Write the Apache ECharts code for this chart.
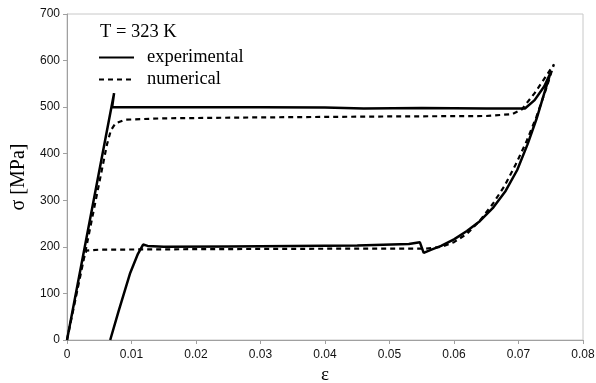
<!DOCTYPE html>
<html>
<head>
<meta charset="utf-8">
<script src="https://cdn.jsdelivr.net/npm/echarts@6/dist/echarts.min.js"></script>
<style>
  html, body { margin: 0; padding: 0; background: #fff; }
  #chart { width: 596px; height: 383px; }
</style>
</head>
<body>
<div id="chart"></div>
<script>
// experimental loop: loading, plateau, hardening, then unloading back to residual strain
const expStrain = [0, 0.0073, 0.0070, 0.015, 0.030, 0.040, 0.046, 0.055, 0.065, 0.0710,
  0.0725, 0.0740, 0.0750,
  0.0740, 0.0728, 0.0714, 0.0698, 0.0680, 0.0660, 0.0640, 0.0620, 0.0600, 0.0580, 0.0565, 0.0553,
  0.0547, 0.0530, 0.0450, 0.0350, 0.0250, 0.0150, 0.0125, 0.0118,
  0.0110, 0.0098, 0.0080, 0.0067];
const expStress = [0, 530, 500, 500, 500, 499, 497, 498, 497, 497,
  515, 545, 575,
  530, 475, 420, 365, 320, 283, 255, 234, 216, 202, 194, 187,
  210, 206, 203, 202, 201, 200, 202, 205,
  185, 144, 62, 0];

// numerical loop
const numStrain = [0, 0.0030, 0.0062, 0.0068, 0.0075, 0.0090, 0.0150, 0.0300, 0.0500, 0.0650,
  0.0690, 0.0705, 0.0725, 0.0755,
  0.0743, 0.0728, 0.0712, 0.0695, 0.0678, 0.0660, 0.0640, 0.0620, 0.0600, 0.0580, 0.0555,
  0.0400, 0.0200, 0.0050, 0.0030, 0.0025, 0];
const numStress = [0, 200, 420, 450, 465, 473, 476, 478, 480, 481,
  485, 495, 530, 592,
  540, 480, 425, 375, 330, 292, 256, 228, 210, 200, 196,
  196, 195, 194, 192, 170, 0];

const xTicks = ['0', '0.01', '0.02', '0.03', '0.04', '0.05', '0.06', '0.07', '0.08'];

const zip = (xs, ys) => xs.map((x, i) => [x, ys[i]]);

const chart = echarts.init(document.getElementById('chart'));

const tickFont = { fontFamily: 'Liberation Sans', fontSize: 12, color: '#111' };
const serif = 'Liberation Serif';

chart.setOption({
  animation: false,
  backgroundColor: '#fff',
  title: {
    text: 'T = 323 K',
    left: 100,
    top: 23,
    padding: 0,
    textStyle: { fontFamily: serif, fontSize: 18.5, fontWeight: 'normal', color: '#000' }
  },
  legend: {
    orient: 'vertical',
    left: 98,
    top: 48,
    padding: 0,
    itemWidth: 35,
    itemHeight: 14,
    itemGap: 3,
    itemStyle: { opacity: 0 },
    textStyle: { fontFamily: serif, fontSize: 18.5, color: '#000', padding: [0, 0, 0, 8] },
    data: ['experimental', 'numerical']
  },
  grid: {
    left: 67,
    right: 13,
    top: 14,
    bottom: 43,
    outerBoundsMode: 'none',
    show: true,
    borderColor: '#c8c8c8',
    borderWidth: 1
  },
  xAxis: {
    type: 'value',
    min: 0,
    max: 0.08,
    interval: 0.01,
    name: 'ε',
    nameLocation: 'middle',
    nameGap: 25,
    nameTextStyle: { fontFamily: serif, fontSize: 19, color: '#000' },
    axisLine: { lineStyle: { color: '#a0a0a0' } },
    axisTick: { show: true, length: 4, lineStyle: { color: '#a0a0a0' } },
    splitLine: { show: false },
    axisLabel: Object.assign({ margin: 9, formatter: (v) => xTicks[Math.round(v * 100)] }, tickFont)
  },
  yAxis: {
    type: 'value',
    min: 0,
    max: 700,
    interval: 100,
    name: 'σ [MPa]',
    nameLocation: 'middle',
    nameGap: 38,
    nameTextStyle: { fontFamily: serif, fontSize: 20, color: '#000' },
    axisLine: { show: true, lineStyle: { color: '#a0a0a0' } },
    axisTick: { show: true, length: 4, lineStyle: { color: '#a0a0a0' } },
    splitLine: { show: false },
    axisLabel: Object.assign({ margin: 7 }, tickFont)
  },
  series: [
    {
      name: 'experimental',
      type: 'line',
      data: zip(expStrain, expStress),
      symbol: 'none',
      lineStyle: { color: '#000', width: 2.5 },
      itemStyle: { color: '#000' }
    },
    {
      name: 'numerical',
      type: 'line',
      data: zip(numStrain, numStress),
      symbol: 'none',
      lineStyle: { color: '#000', width: 2.2, type: [5, 4] },
      itemStyle: { color: '#000' }
    }
  ]
});
</script>
</body>
</html>
